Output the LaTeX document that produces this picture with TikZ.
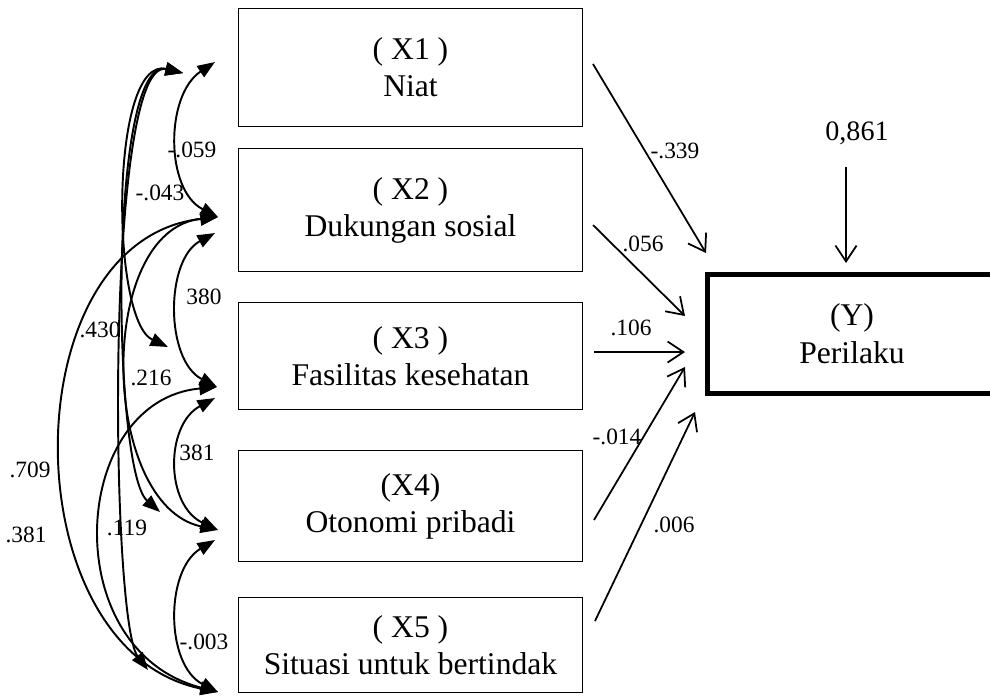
\documentclass[tikz,border=0pt]{standalone}
\usepackage{fontspec}
\setmainfont{Liberation Serif}
\usetikzlibrary{arrows.meta, calc}

\begin{document}
\begin{tikzpicture}[
  x=0.02cm, y=-0.02cm,
  varbox/.style={
    rectangle, draw=black, line width=0.6pt,
    minimum width=6.88cm, minimum height=#1,
    align=center, font=\fontsize{18}{21}\selectfont
  },
  outbox/.style={
    rectangle, draw=black, line width=2.6pt,
    minimum width=7cm, minimum height=2.39cm
  },
  outtext/.style={align=center, font=\fontsize{18}{21.5}\selectfont},
  coef/.style={font=\fontsize{13.3}{15}\selectfont, inner sep=0pt},
  effect/.style={-{Straight Barb[length=9pt,width=12pt]}, line width=1pt},
  corr/.style={{Triangle[length=10pt,width=7.5pt]}-{Triangle[length=10pt,width=7.5pt]}, line width=1.1pt}
]
\useasboundingbox (0,0) rectangle (990,698);
\clip (0,0) rectangle (990,698);

% variables
\node[varbox=2.36cm] (x1) at (410.5,67.5) {( X1 )\\Niat};
\node[varbox=2.46cm] (x2) at (410.5,210) {( X2 )\\Dukungan sosial};
\node[varbox=2.14cm] (x3) at (410.5,356) {( X3 )\\Fasilitas kesehatan};
\node[varbox=2.22cm] (x4) at (410.5,506) {(X4)\\Otonomi pribadi};
\node[varbox=1.90cm] (x5) at (410.5,645) {( X5 )\\Situasi untuk bertindak};
\node[outbox] (y) at (882.3,334) {};
\node[outtext] (ylab) at (852,334) {(Y)\\Perilaku};
\node[font=\fontsize{16}{18}\selectfont, inner sep=0pt] (err) at (857,133) {0,861};

% ends of the correlation curves
\coordinate (x1r) at (215,62);
\coordinate (x1l) at (183,73);
\coordinate (x2r) at (218,217);
\coordinate (x2s) at (215,233);
\coordinate (x3r) at (217,387);
\coordinate (x3s) at (215,398);
\coordinate (x3l) at (168,347);
\coordinate (x4r) at (218,530);
\coordinate (x4s) at (215,540);
\coordinate (x4l) at (160,512);
\coordinate (x5r) at (218,692);
\coordinate (x5l) at (148,670);

% ends of the paths into Y
\coordinate (e1) at (706,253);
\coordinate (e2) at (685,316);
\coordinate (e3) at (685,352);
\coordinate (e4) at (685,367);
\coordinate (e5) at (695,412);

\draw[effect] ($(x1.east)+(10,-3.5)$) -- (e1);
\draw[effect] ($(x2.east)+(10,15)$) -- (e2);
\draw[effect] ($(x3.east)+(11,-4)$) -- (e3);
\draw[effect] ($(x4.east)+(11,14)$) -- (e4);
\draw[effect] ($(x5.east)+(12,-24)$) -- (e5);
\draw[effect] ($(err.south)+(-11,22)$) -- ($(err.south |- y.north)+(-11,-9)$);

\node[coef] (b1) at (675,151) {-.339};
\node[coef] (b2) at (643,244) {.056};
\node[coef] (b3) at (631,328) {.106};
\node[coef] (b4) at (617,437) {-.014};
\node[coef] (b5) at (674,525) {.006};

% correlations
\draw[corr] (x1r) .. controls (165,95) and (165,190) .. (x2r);
\draw[corr] (x2s) .. controls (165,260) and (165,360) .. (x3r);
\draw[corr] (x3s) .. controls (165,425) and (165,505) .. (x4r);
\draw[corr] (x4s) .. controls (165,570) and (165,665) .. (x5r);
\draw[corr] (x1l) .. controls (110,55) and (110,320) .. (x3l);
\draw[corr] (x1l) .. controls (108,55) and (112,470) .. (x4l);
\draw[corr] (x1l) .. controls (105,55) and (110,620) .. (x5l);
\draw[corr] (x2r) .. controls (95,230) and (100,505) .. (x4r);
\draw[corr] (x2r) .. controls (10,240) and (10,650) .. (x5r);
\draw[corr] (x3r) .. controls (70,400) and (55,650) .. (x5r);

\node[coef] (r12) at (192,150) {-.059};
\node[coef] (r13) at (160,193) {-.043};
\node[coef] (r23) at (204,297) {380};
\node[coef] (r14) at (100,330) {.430};
\node[coef] (r24) at (151,378) {.216};
\node[coef] (r34) at (197,453) {381};
\node[coef] (r15) at (30,470) {.709};
\node[coef] (r25) at (26,535) {.381};
\node[coef] (r35) at (127,528) {.119};
\node[coef] (r45) at (204,642) {-.003};

\end{tikzpicture}
\end{document}
